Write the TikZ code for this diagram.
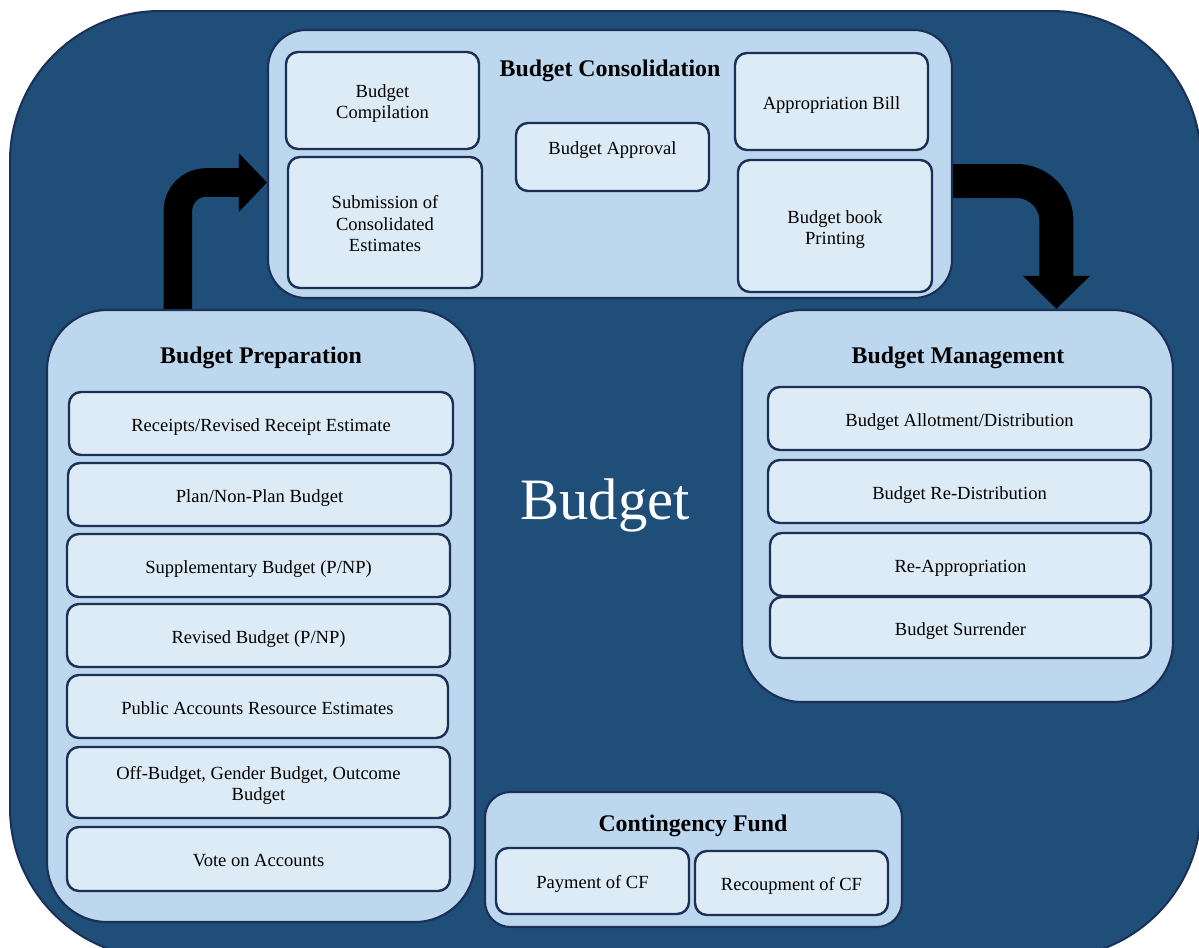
\documentclass[tikz,border=0pt]{standalone}
\usepackage{fontspec}
\setmainfont{Liberation Serif}
\usetikzlibrary{arrows.meta,calc}
\definecolor{bgblue}{HTML}{1F4E79}
\definecolor{navy}{HTML}{1B2F57}
\definecolor{contfill}{HTML}{BDD7EE}
\definecolor{boxfill}{HTML}{DDEBF7}
\newcommand{\bt}[2][-2.5pt]{\raisebox{#1}[\height][\depth]{\begin{tabular}{@{}c@{}}#2\end{tabular}}}
\begin{document}
\begin{tikzpicture}[x=0.75pt,y=-0.75pt,
  outer/.style={draw=navy, line width=1.5pt, fill=bgblue, rounded corners=112.5pt},
  cont/.style={draw=navy, line width=1.6pt, fill=contfill, rounded corners=#1, inner sep=0pt},
  sz/.style 2 args={minimum width=#1*0.75pt, minimum height=#2*0.75pt},
  ibox/.style={draw=navy, line width=1.8pt, fill=boxfill, rounded corners=9pt, align=center,
    inner sep=0pt, font=\fontsize{13.9}{15.8}\selectfont},
  title/.style={font=\bfseries\fontsize{17.9}{20}\selectfont},
  bigtext/.style={text=white, font=\fontsize{44}{50}\selectfont}]
\useasboundingbox (0,0) rectangle (1199,947);
\path[outer] (10,11) rectangle (1201,958);

% containers
\node[cont=28.5pt, sz={684}{268}] (cons) at (610,164) {};
\node[cont=45pt, sz={428}{612}] (prep) at (261,616) {};
\node[cont=45pt, sz={431}{392}] (mgmt) at (957.5,506) {};
\node[cont=19pt, sz={417}{135}] (cf) at (693.5,859.5) {};

% titles
\node[title] (constitle) at (610,71) {Budget Consolidation};
\node[title] (preptitle) at (261,358) {Budget Preparation};
\node[title] (mgmttitle) at (958,358) {Budget Management};
\node[title] (cftitle) at (693,826) {Contingency Fund};
\node[bigtext] (budget) at (605,505) {Budget};

% consolidation boxes
\node[ibox, sz={193}{97}] (comp) at (382.5,100.5) {\bt{Budget\\Compilation}};
\node[ibox, sz={194}{131}] (subm) at (385,222.5) {\bt{Submission of\\Consolidated\\Estimates}};
\node[ibox, sz={193}{68}] (appr) at (612.5,157) {\bt[4.7pt]{Budget Approval}};
\node[ibox, sz={193}{97}] (bill) at (831.5,101.5) {\bt{Appropriation Bill}};
\node[ibox, sz={194}{132}] (print) at (835,226) {\bt{Budget book\\Printing}};

% preparation boxes
\node[ibox, sz={384}{63}] (rec) at (261,423.5) {\bt{Receipts/Revised Receipt Estimate}};
\node[ibox, sz={383}{63}] (plan) at (259.5,494.5) {\bt{Plan/Non-Plan Budget}};
\node[ibox, sz={383}{63}] (supp) at (258.5,565.5) {\bt{Supplementary Budget (P/NP)}};
\node[ibox, sz={383}{63}] (rev) at (258.5,635.5) {\bt{Revised Budget (P/NP)}};
\node[ibox, sz={381}{63}] (pub) at (257.5,706.5) {\bt{Public Accounts Resource Estimates}};
\node[ibox, sz={383}{71}] (off) at (258.5,782.5) {\bt{Off-Budget, Gender Budget, Outcome\\Budget}};
\node[ibox, sz={383}{64}] (vote) at (258.5,859) {\bt{Vote on Accounts}};

% management boxes
\node[ibox, sz={383}{63}] (allot) at (959.5,418.5) {\bt{Budget Allotment/Distribution}};
\node[ibox, sz={383}{63}] (redist) at (959.5,491.5) {\bt{Budget Re-Distribution}};
\node[ibox, sz={381}{63}] (reapp) at (960.5,564.5) {\bt{Re-Appropriation}};
\node[ibox, sz={381}{61}] (surr) at (960.5,627.5) {\bt{Budget Surrender}};

% contingency fund boxes
\node[ibox, sz={193}{66}] (pay) at (592.5,881) {\bt{Payment of CF}};
\node[ibox, sz={193}{64}] (recoup) at (791.5,883) {\bt{Recoupment of CF}};

% arrows
\draw[line width=21.4pt, black, -{Triangle[length=21pt,width=42.75pt]}, rounded corners=21pt]
  ($(prep.north west)+(132,0)$) |- ($(cons.west)+(0,18.5)$);
\draw[line width=25.5pt, black, -{Triangle[length=24.75pt,width=48.75pt]}, rounded corners=30pt]
  ($(cons.east)+(0,17)$) -| ($(mgmt.north west)+(315.5,0)$);
\end{tikzpicture}
\end{document}
